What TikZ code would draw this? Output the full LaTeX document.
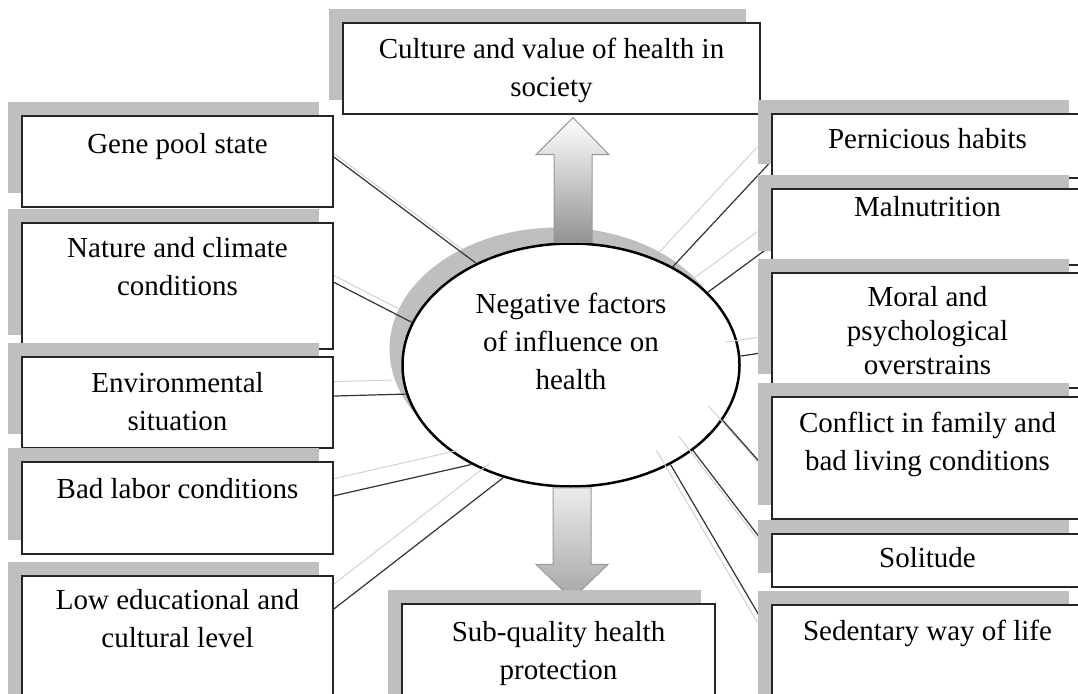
\documentclass[tikz,border=0pt]{standalone}
\usepackage{fontspec}
\setmainfont{Liberation Serif}
\usetikzlibrary{shapes.geometric,shadows,calc,positioning}
\pgfdeclarelayer{bg}
\pgfdeclarelayer{lines}
\pgfsetlayers{bg,lines,main}

\begin{document}
\begin{tikzpicture}[
			x=1pt, y=-1pt,
			txt/.style={font=\fontsize{29}{38}\selectfont, align=center, inner sep=0pt, text height=21pt},
			twolines/.style={text height=59pt},
			threelines/.style={text height=97pt},
			factor/.style={txt, draw=black!85, line width=1.3pt, fill=white, minimum width=311pt,
				general shadow={fill=black!25, shadow xshift=-14pt, shadow yshift=14pt}},
			link/.style={draw=black!80, line width=1.2pt},
			linkshade/.style={draw=black!18, line width=1pt},
			fatarrow/.style={draw=gray!80, line width=1pt}
			]

			\useasboundingbox (0,0) rectangle (1078,693);

			\begin{pgfonlayer}{bg}
			\node[txt, threelines, ellipse, draw=black, line width=2.5pt, fill=white, text depth=49pt,
				minimum width=337pt, minimum height=243pt,
				general shadow={fill=black!25, shadow xshift=-13pt, shadow yshift=16pt}] (neg) at (571,365) {Negative factors\\of influence on\\health};
			\end{pgfonlayer}

			% left column
			\node[factor, minimum height=91pt, text depth=38pt] (gene) at (177.5,161.5) {Gene pool state};
			\node[factor, twolines, minimum height=126pt, text depth=41pt] (nature) at (177.5,286) {Nature and climate\\conditions};
			\node[factor, twolines, minimum height=91pt, text depth=4pt] (env) at (177.5,402.5) {Environmental\\situation};
			\node[factor, minimum height=92pt, text depth=41pt] (labor) at (177.5,508) {Bad labor conditions};
			\node[factor, twolines, minimum height=134pt, text depth=51pt] (edu) at (177.5,643) {Low educational and\\cultural level};

			% top and bottom
			\node[factor, twolines, minimum width=417pt, minimum height=91pt, text depth=4pt] (cult) at (551.5,68.5) {Culture and value of health in\\society};
			\node[factor, twolines, minimum width=313pt, minimum height=106pt, text depth=15pt] (subq) at (558.5,657) {Sub-quality health\\protection};

			% right column
			\node[factor, minimum height=64pt, text depth=17pt] (pern) at (927.5,146) {Pernicious habits};
			\node[factor, minimum height=76pt, text depth=43pt] (malnut) at (927.5,227) {Malnutrition};
			\node[factor, font=\fontsize{29}{34}\selectfont, text height=89pt, minimum height=115pt, text depth=2pt] (moral) at (927.5,330.5) {Moral and\\psychological\\overstrains};
			\node[factor, twolines, minimum height=122pt, text depth=35pt] (conflict) at (927.5,458) {Conflict in family and\\bad living conditions};
			\node[factor, minimum height=53pt, text depth=8pt] (solit) at (927.5,560.5) {Solitude};
			\node[factor, minimum height=105pt, text depth=56pt] (sedent) at (927.5,657.5) {Sedentary way of life};

			\begin{pgfonlayer}{bg}
			\draw[fatarrow, top color=white, bottom color=gray!85] let \p1=(neg.north), \p2=(cult.south) in
				(\x1-17pt,\y1) -- (\x1-17pt,\y2-40pt) -- (\x1-35pt,\y2-40pt) -- (\x1+2pt,\y2-3pt)
				-- (\x1+38pt,\y2-40pt) -- (\x1+21pt,\y2-40pt) -- (\x1+21pt,\y1) -- cycle;
			\draw[fatarrow, top color=gray!15, bottom color=gray!70] let \p1=(neg.south), \p2=(subq.north) in
				(\x1-18pt,\y1) -- (\x1-18pt,\y2+39pt) -- (\x1-35pt,\y2+39pt) -- (\x1+1pt,\y2+4pt)
				-- (\x1+37pt,\y2+39pt) -- (\x1+20pt,\y2+39pt) -- (\x1+20pt,\y1) -- cycle;
			\end{pgfonlayer}

			\begin{pgfonlayer}{lines}
			\foreach \b/\f/\a in {gene/0.45/133, nature/0.47/165, env/0.43/190, labor/0.37/225, edu/0.25/239}
				{
				\draw[linkshade] ($(\b.north east)!\f!(\b.south east)+(-14pt,14pt)$) -- ([xshift=-14pt,yshift=14pt]neg.\a);
				\draw[link] ($(\b.north east)!\f!(\b.south east)$) -- (neg.\a);
				}
			\foreach \b/\f/\a in {pern/0.73/44, malnut/0.74/28, moral/0.68/3, conflict/0.64/340, solit/0.36/325, sedent/0.30/315}
				{
				\draw[linkshade] ($(\b.north west)!\f!(\b.south west)+(-14pt,14pt)$) -- ([xshift=-14pt,yshift=14pt]neg.\a);
				\draw[link] ($(\b.north west)!\f!(\b.south west)$) -- (neg.\a);
				}
			\end{pgfonlayer}

		\end{tikzpicture}
\end{document}
